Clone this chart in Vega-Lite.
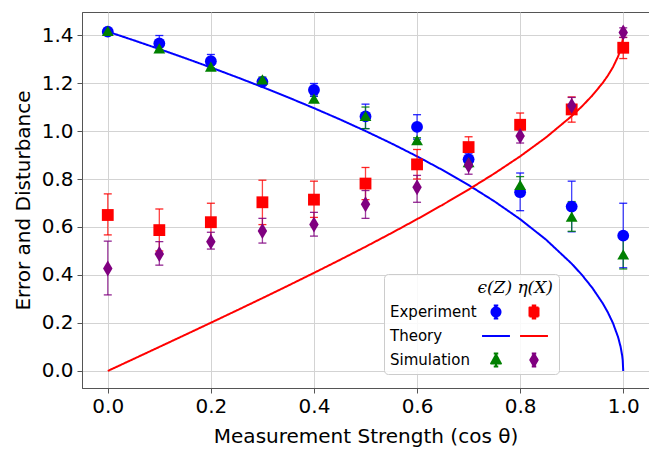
{
  "$schema": "https://vega.github.io/schema/vega-lite/v6.json",
  "width": 567,
  "height": 376,
  "autosize": {"type": "none"},
  "padding": {"left": 82, "top": 12, "right": 0, "bottom": 67},
  "background": "white",
  "config": {
    "view": {"stroke": "#555555", "strokeWidth": 1},
    "axis": {
      "labelFont": "DejaVu Sans", "labelFontSize": 20, "labelColor": "#000000",
      "titleFont": "DejaVu Sans", "titleFontSize": 20, "titleFontWeight": "normal", "titleColor": "#000000",
      "gridColor": "#d3d3d3", "gridWidth": 1, "domainColor": "#555555", "tickColor": "#555555", "tickSize": 5
    }
  },
  "datasets": {
    "pts": [
      {"x": 0.0, "y": 1.414, "lo": 1.404, "hi": 1.424, "key": "eps_exp"},
      {"x": 0.1, "y": 1.365, "lo": 1.332, "hi": 1.398, "key": "eps_exp"},
      {"x": 0.2, "y": 1.291, "lo": 1.263, "hi": 1.319, "key": "eps_exp"},
      {"x": 0.3, "y": 1.205, "lo": 1.192, "hi": 1.218, "key": "eps_exp"},
      {"x": 0.4, "y": 1.171, "lo": 1.145, "hi": 1.198, "key": "eps_exp"},
      {"x": 0.5, "y": 1.061, "lo": 1.01, "hi": 1.112, "key": "eps_exp"},
      {"x": 0.6, "y": 1.017, "lo": 0.966, "hi": 1.068, "key": "eps_exp"},
      {"x": 0.7, "y": 0.882, "lo": 0.86, "hi": 0.905, "key": "eps_exp"},
      {"x": 0.8, "y": 0.745, "lo": 0.668, "hi": 0.825, "key": "eps_exp"},
      {"x": 0.9, "y": 0.685, "lo": 0.58, "hi": 0.791, "key": "eps_exp"},
      {"x": 1.0, "y": 0.564, "lo": 0.43, "hi": 0.699, "key": "eps_exp"},
      {"x": 0.0, "y": 0.65, "lo": 0.567, "hi": 0.738, "key": "eta_exp"},
      {"x": 0.1, "y": 0.587, "lo": 0.5, "hi": 0.675, "key": "eta_exp"},
      {"x": 0.2, "y": 0.62, "lo": 0.54, "hi": 0.699, "key": "eta_exp"},
      {"x": 0.3, "y": 0.703, "lo": 0.61, "hi": 0.795, "key": "eta_exp"},
      {"x": 0.4, "y": 0.714, "lo": 0.64, "hi": 0.791, "key": "eta_exp"},
      {"x": 0.5, "y": 0.781, "lo": 0.714, "hi": 0.848, "key": "eta_exp"},
      {"x": 0.6, "y": 0.861, "lo": 0.8, "hi": 0.923, "key": "eta_exp"},
      {"x": 0.7, "y": 0.933, "lo": 0.89, "hi": 0.976, "key": "eta_exp"},
      {"x": 0.8, "y": 1.026, "lo": 0.978, "hi": 1.075, "key": "eta_exp"},
      {"x": 0.9, "y": 1.09, "lo": 1.037, "hi": 1.142, "key": "eta_exp"},
      {"x": 1.0, "y": 1.347, "lo": 1.302, "hi": 1.39, "key": "eta_exp"},
      {"x": 0.0, "y": 1.417, "lo": 1.41, "hi": 1.424, "key": "eps_sim"},
      {"x": 0.1, "y": 1.344, "lo": 1.337, "hi": 1.351, "key": "eps_sim"},
      {"x": 0.2, "y": 1.268, "lo": 1.26, "hi": 1.276, "key": "eps_sim"},
      {"x": 0.3, "y": 1.215, "lo": 1.205, "hi": 1.225, "key": "eps_sim"},
      {"x": 0.4, "y": 1.135, "lo": 1.125, "hi": 1.145, "key": "eps_sim"},
      {"x": 0.5, "y": 1.063, "lo": 1.01, "hi": 1.1, "key": "eps_sim"},
      {"x": 0.6, "y": 0.962, "lo": 0.952, "hi": 0.972, "key": "eps_sim"},
      {"x": 0.7, "y": 0.87, "lo": 0.85, "hi": 0.89, "key": "eps_sim"},
      {"x": 0.8, "y": 0.776, "lo": 0.74, "hi": 0.81, "key": "eps_sim"},
      {"x": 0.9, "y": 0.643, "lo": 0.582, "hi": 0.706, "key": "eps_sim"},
      {"x": 1.0, "y": 0.486, "lo": 0.425, "hi": 0.55, "key": "eps_sim"},
      {"x": 0.0, "y": 0.427, "lo": 0.317, "hi": 0.541, "key": "eta_sim"},
      {"x": 0.1, "y": 0.487, "lo": 0.441, "hi": 0.539, "key": "eta_sim"},
      {"x": 0.2, "y": 0.539, "lo": 0.508, "hi": 0.578, "key": "eta_sim"},
      {"x": 0.3, "y": 0.583, "lo": 0.533, "hi": 0.636, "key": "eta_sim"},
      {"x": 0.4, "y": 0.61, "lo": 0.562, "hi": 0.661, "key": "eta_sim"},
      {"x": 0.5, "y": 0.695, "lo": 0.636, "hi": 0.752, "key": "eta_sim"},
      {"x": 0.6, "y": 0.766, "lo": 0.703, "hi": 0.815, "key": "eta_sim"},
      {"x": 0.7, "y": 0.857, "lo": 0.82, "hi": 0.89, "key": "eta_sim"},
      {"x": 0.8, "y": 0.979, "lo": 0.95, "hi": 1.005, "key": "eta_sim"},
      {"x": 0.9, "y": 1.105, "lo": 1.07, "hi": 1.14, "key": "eta_sim"},
      {"x": 1.0, "y": 1.411, "lo": 1.39, "hi": 1.43, "key": "eta_sim"}
    ],
    "theory": [
      {"x": 0.0, "y": 1.4142, "key": "eps_th"},
      {"x": 0.05, "y": 1.3784, "key": "eps_th"},
      {"x": 0.1, "y": 1.3416, "key": "eps_th"},
      {"x": 0.15, "y": 1.3038, "key": "eps_th"},
      {"x": 0.2, "y": 1.2649, "key": "eps_th"},
      {"x": 0.25, "y": 1.2247, "key": "eps_th"},
      {"x": 0.3, "y": 1.1832, "key": "eps_th"},
      {"x": 0.35, "y": 1.1402, "key": "eps_th"},
      {"x": 0.4, "y": 1.0954, "key": "eps_th"},
      {"x": 0.45, "y": 1.0488, "key": "eps_th"},
      {"x": 0.5, "y": 1.0, "key": "eps_th"},
      {"x": 0.55, "y": 0.9487, "key": "eps_th"},
      {"x": 0.6, "y": 0.8944, "key": "eps_th"},
      {"x": 0.65, "y": 0.8367, "key": "eps_th"},
      {"x": 0.7, "y": 0.7746, "key": "eps_th"},
      {"x": 0.75, "y": 0.7071, "key": "eps_th"},
      {"x": 0.8, "y": 0.6325, "key": "eps_th"},
      {"x": 0.85, "y": 0.5477, "key": "eps_th"},
      {"x": 0.9, "y": 0.4472, "key": "eps_th"},
      {"x": 0.92, "y": 0.4, "key": "eps_th"},
      {"x": 0.94, "y": 0.3464, "key": "eps_th"},
      {"x": 0.96, "y": 0.2828, "key": "eps_th"},
      {"x": 0.97, "y": 0.2449, "key": "eps_th"},
      {"x": 0.98, "y": 0.2, "key": "eps_th"},
      {"x": 0.99, "y": 0.1414, "key": "eps_th"},
      {"x": 0.995, "y": 0.1, "key": "eps_th"},
      {"x": 0.998, "y": 0.0632, "key": "eps_th"},
      {"x": 0.999, "y": 0.0447, "key": "eps_th"},
      {"x": 1.0, "y": 0.0, "key": "eps_th"},
      {"x": 0.0, "y": 0.0, "key": "eta_th"},
      {"x": 0.05, "y": 0.05, "key": "eta_th"},
      {"x": 0.1, "y": 0.1001, "key": "eta_th"},
      {"x": 0.15, "y": 0.1504, "key": "eta_th"},
      {"x": 0.2, "y": 0.201, "key": "eta_th"},
      {"x": 0.25, "y": 0.252, "key": "eta_th"},
      {"x": 0.3, "y": 0.3035, "key": "eta_th"},
      {"x": 0.35, "y": 0.3557, "key": "eta_th"},
      {"x": 0.4, "y": 0.4086, "key": "eta_th"},
      {"x": 0.45, "y": 0.4625, "key": "eta_th"},
      {"x": 0.5, "y": 0.5176, "key": "eta_th"},
      {"x": 0.55, "y": 0.5742, "key": "eta_th"},
      {"x": 0.6, "y": 0.6325, "key": "eta_th"},
      {"x": 0.65, "y": 0.6929, "key": "eta_th"},
      {"x": 0.7, "y": 0.7561, "key": "eta_th"},
      {"x": 0.75, "y": 0.8229, "key": "eta_th"},
      {"x": 0.8, "y": 0.8944, "key": "eta_th"},
      {"x": 0.85, "y": 0.9729, "key": "eta_th"},
      {"x": 0.9, "y": 1.0622, "key": "eta_th"},
      {"x": 0.92, "y": 1.1028, "key": "eta_th"},
      {"x": 0.94, "y": 1.1479, "key": "eta_th"},
      {"x": 0.96, "y": 1.2, "key": "eta_th"},
      {"x": 0.97, "y": 1.2304, "key": "eta_th"},
      {"x": 0.98, "y": 1.2657, "key": "eta_th"},
      {"x": 0.99, "y": 1.3107, "key": "eta_th"},
      {"x": 0.995, "y": 1.3417, "key": "eta_th"},
      {"x": 0.998, "y": 1.3688, "key": "eta_th"},
      {"x": 0.999, "y": 1.3822, "key": "eta_th"},
      {"x": 1.0, "y": 1.4142, "key": "eta_th"}
    ]
  },
  "layer": [
    {
      "data": {"name": "theory"},
      "mark": {"type": "line", "strokeWidth": 2, "strokeCap": "butt"},
      "encoding": {
        "x": {"field": "x", "type": "quantitative", "scale": {"domain": [-0.05, 1.05], "nice": false, "zero": false}, "axis": {"values": [0, 0.2, 0.4, 0.6, 0.8, 1.0], "format": ".1f", "labelPadding": 3, "titlePadding": 10, "labelFlush": false}, "title": "Measurement Strength (cos θ)"},
        "y": {"field": "y", "type": "quantitative", "scale": {"domain": [-0.071, 1.496], "nice": false, "zero": false}, "axis": {"values": [0, 0.2, 0.4, 0.6, 0.8, 1.0, 1.2, 1.4], "format": ".1f", "labelPadding": 4, "titlePadding": 8, "labelFlush": false}, "title": "Error and Disturbance"},
        "color": {"field": "key", "type": "nominal", "legend": null, "scale": {"domain": ["eps_exp", "eta_exp", "eps_sim", "eta_sim", "eps_th", "eta_th", "row_exp", "row_th", "row_sim"], "range": ["#0000ff", "#ff0000", "#008000", "#800080", "#0000ff", "#ff0000", "#ffffff", "#ffffff", "#ffffff"]}},
        "strokeDash": {
          "field": "key", "type": "nominal",
          "scale": {"domain": ["row_exp", "row_th", "row_sim", "eps_exp", "eps_th", "eps_sim", "eta_exp", "eta_th", "eta_sim"], "range": [[1, 0], [1, 0], [1, 0], [1, 0], [1, 0], [1, 0], [1, 0], [1, 0], [1, 0]]},
          "legend": {
            "title": "ϵ(Z) η(X)",
            "orient": "none", "legendX": 302, "legendY": 262,
            "direction": "vertical",
            "columns": 3, "columnPadding": 0, "rowPadding": 0, "padding": 6, "gridAlign": "each",
            "symbolSize": 900, "symbolStrokeWidth": 2,
            "labelOffset": -32, "labelFont": "DejaVu Sans", "labelFontSize": 15, "labelColor": "#000000",
            "labelExpr": "datum.value==='row_exp' ? 'Experiment' : datum.value==='row_th' ? 'Theory' : datum.value==='row_sim' ? 'Simulation' : ''",
            "titleFont": "DejaVu Serif", "titleFontStyle": "italic", "titleFontWeight": "normal", "titleFontSize": 17, "titleColor": "#000000", "titleAnchor": "end", "titlePadding": -1,
            "strokeColor": "#cccccc", "fillColor": "rgba(255,255,255,0.85)", "cornerRadius": 4,
            "encode": {
              "symbols": {
                "update": {
                  "size": {"value": 900},
                  "strokeWidth": {"value": 2},
                  "strokeJoin": {"value": "round"},
                  "opacity": {"value": 1},
                  "fill": {"signal": "datum.value==='eps_exp' ? '#0000ff' : datum.value==='eta_exp' ? '#ff0000' : datum.value==='eps_sim' ? '#008000' : datum.value==='eta_sim' ? '#800080' : 'transparent'"},
                  "stroke": {"signal": "(datum.value==='eps_exp' || datum.value==='eps_th') ? '#0000ff' : (datum.value==='eta_exp' || datum.value==='eta_th') ? '#ff0000' : datum.value==='eps_sim' ? '#008000' : datum.value==='eta_sim' ? '#800080' : 'transparent'"},
                  "shape": {"signal": "datum.value==='eps_exp' ? 'M-1.17,-0.43M1.17,0.43M0,-0.43L0,0.43M-0.15,-0.43L0.15,-0.43M-0.15,0.43L0.15,0.43M-0.3,0A0.3,0.3,0,1,1,0.3,0A0.3,0.3,0,1,1,-0.3,0Z' : datum.value==='eta_exp' ? 'M-1.17,-0.43M1.17,0.43M0,-0.43L0,0.43M-0.15,-0.43L0.15,-0.43M-0.15,0.43L0.15,0.43M-0.3,-0.3L0.3,-0.3L0.3,0.3L-0.3,0.3Z' : (datum.value==='eps_th' || datum.value==='eta_th') ? 'M-1.17,-0.43M1.17,0.43M-0.93,0L0.93,0' : datum.value==='eps_sim' ? 'M-1.17,-0.43M1.17,0.43M0,-0.43L0,0.43M-0.15,-0.43L0.15,-0.43M-0.15,0.43L0.15,0.43M0,-0.36L0.33,0.24L-0.33,0.24Z' : datum.value==='eta_sim' ? 'M-1.17,-0.43M1.17,0.43M0,-0.43L0,0.43M-0.15,-0.43L0.15,-0.43M-0.15,0.43L0.15,0.43M0,-0.42L0.25,0L0,0.42L-0.25,0Z' : 'M-1.17,-0.43M1.17,0.43'"}
                }
              }
            }
          }
        }
      }
    },
    {
      "data": {"name": "pts"},
      "mark": {"type": "rule", "strokeWidth": 1.3, "opacity": 0.75},
      "encoding": {
        "x": {"field": "x", "type": "quantitative", "title": "Measurement Strength (cos θ)"},
        "y": {"field": "lo", "type": "quantitative", "title": "Error and Disturbance"},
        "y2": {"field": "hi"},
        "color": {"field": "key", "type": "nominal", "legend": null}
      }
    },
    {
      "data": {"name": "pts"},
      "mark": {"type": "point", "shape": "stroke", "filled": false, "size": 64, "strokeWidth": 1.3, "opacity": 0.85},
      "encoding": {
        "x": {"field": "x", "type": "quantitative", "title": "Measurement Strength (cos θ)"},
        "y": {"field": "hi", "type": "quantitative", "title": "Error and Disturbance"},
        "color": {"field": "key", "type": "nominal", "legend": null}
      }
    },
    {
      "data": {"name": "pts"},
      "mark": {"type": "point", "shape": "stroke", "filled": false, "size": 64, "strokeWidth": 1.3, "opacity": 0.85},
      "encoding": {
        "x": {"field": "x", "type": "quantitative", "title": "Measurement Strength (cos θ)"},
        "y": {"field": "lo", "type": "quantitative", "title": "Error and Disturbance"},
        "color": {"field": "key", "type": "nominal", "legend": null}
      }
    },
    {
      "data": {"name": "pts"},
      "mark": {"type": "point", "filled": true, "size": 140, "opacity": 1, "strokeWidth": 0},
      "encoding": {
        "x": {"field": "x", "type": "quantitative", "title": "Measurement Strength (cos θ)"},
        "y": {"field": "y", "type": "quantitative", "title": "Error and Disturbance"},
        "color": {"field": "key", "type": "nominal", "legend": null},
        "shape": {
          "field": "key", "type": "nominal", "legend": null,
          "scale": {"domain": ["eps_exp", "eta_exp", "eps_sim", "eta_sim", "eps_th", "eta_th", "row_exp", "row_th", "row_sim"], "range": ["circle", "square", "triangle-up", "M0,-1.35L0.8,0L0,1.35L-0.8,0Z", "circle", "circle", "circle", "circle", "circle"]}
        }
      }
    }
  ]
}
